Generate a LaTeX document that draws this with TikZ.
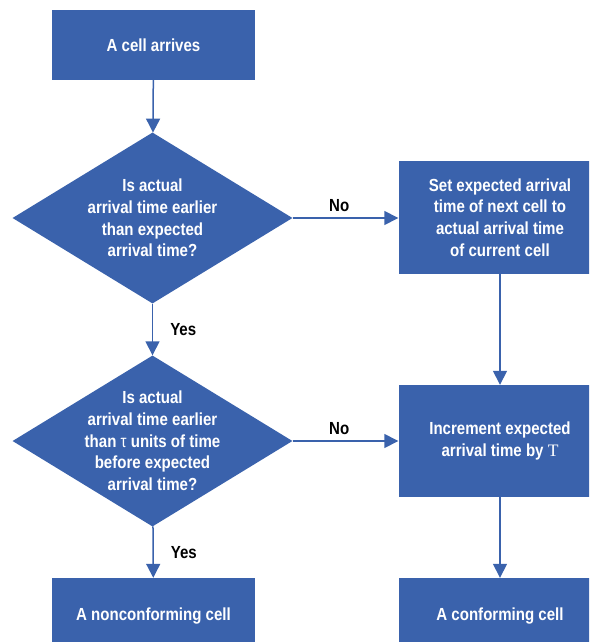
\documentclass[tikz,border=0pt]{standalone}
\usepackage{fontspec}
\setmainfont[FakeStretch=0.86]{Liberation Sans}
\newfontfamily\serifT{Liberation Serif}
\usetikzlibrary{arrows.meta,shapes.geometric}
\definecolor{hpblue}{RGB}{58,98,172}
\begin{document}
\begin{tikzpicture}[x=1pt,y=-1pt,
  box/.style={fill=hpblue, draw=none, minimum width=203pt, inner sep=0pt,
    text=white, font=\bfseries\fontsize{17.5}{21.7}\selectfont, align=center},
  dia/.style={diamond, fill=hpblue, draw=none, minimum width=280pt,
    minimum height=171pt, inner sep=0pt},
  dtext/.style={text=white, inner sep=0pt, align=center,
    font=\bfseries\fontsize{17.5}{21.7}\selectfont},
  conn/.style={draw=hpblue, line width=1.5pt, -{Triangle[width=14pt,length=14pt]}},
  lbl/.style={text=black, inner sep=0pt, font=\bfseries\fontsize{17.5}{20}\selectfont}]
\useasboundingbox (0,0) rectangle (589,642);
\clip (0,0) rectangle (589,642);
\node[box, minimum height=70pt] (start) at (153.5,45) {A cell arrives};
\node[dia] (d1) at (152.5,218) {};
\node[dtext] (d1t) at (d1.center) {Is actual\\arrival time earlier\\than expected\\arrival time?};
\node[dia] (d2) at (152.5,441) {};
\node[dtext] (d2t) at (d2.center) {Is actual\\arrival time earlier\\than {\mdseries τ} units of time\\before expected\\arrival time?};
\node[box, minimum height=76pt] (nonconf) at (153.5,616) {A nonconforming cell};
\node[box, minimum height=113pt] (set) at (500,217.5) {Set expected arrival\\time of next cell to\\actual arrival time\\of current cell};
\node[box, minimum height=112pt] (inc) at (500,441) {Increment expected\\arrival time by {\serifT\mdseries T}};
\node[box, minimum height=76pt] (conf) at (500,616) {A conforming cell};
\draw[conn] (start) -- (d1);
\draw[conn] (d1) -- node[lbl, midway, anchor=west, xshift=17pt] {Yes} (d2);
\draw[conn] (d2) -- node[lbl, midway, anchor=west, xshift=17pt] {Yes} (nonconf);
\draw[conn] (d1.east) -- node[lbl, pos=0.44, anchor=south, yshift=6pt] {No} (d1.east -| set.west);
\draw[conn] (d2.east) -- node[lbl, pos=0.44, anchor=south, yshift=6pt] {No} (d2.east -| inc.west);
\draw[conn] (set) -- (inc);
\draw[conn] (inc) -- (conf);
\end{tikzpicture}
\end{document}
